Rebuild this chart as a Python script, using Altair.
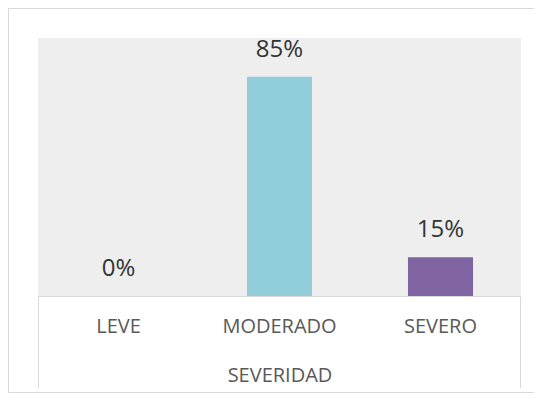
import altair as alt
import pandas as pd

categories = ["LEVE", "MODERADO", "SEVERO"]
values = [0.0, 0.85, 0.15]
bar_colors = ["#92CDDC", "#92CDDC", "#8064A2"]
axis_title = "SEVERIDAD"

df = pd.DataFrame({"cat": categories, "val": values})

W, H = 483, 258
PL, PT, PR, PB = 30, 30, 13, 97

font = "Open Sans"
band = alt.Scale(paddingInner=0.596, paddingOuter=0.298)

x_enc = alt.X("cat:N", sort=categories, scale=band,
              axis=alt.Axis(title=axis_title, labelAngle=0, ticks=False,
                            domainColor="#d9d9d9", domainWidth=1,
                            labelFont=font, labelFontSize=20, labelColor="#595959",
                            labelBaseline="middle", labelPadding=30,
                            titleFont=font, titleFontSize=20, titleColor="#595959",
                            titleFontWeight="normal", titleBaseline="middle",
                            titleY=79))
y_enc = alt.Y("val:Q", scale=alt.Scale(domain=[0, 1]), axis=None)

base = alt.Chart(df)

background = alt.Chart(pd.DataFrame({"b": [0]})).mark_rect(fill="#eeeeee", strokeWidth=0).encode(
    x=alt.value(0), x2=alt.value(W), y=alt.value(0), y2=alt.value(H),
)

bars = base.mark_bar().encode(
    x=x_enc, y=y_enc,
    color=alt.Color("cat:N", scale=alt.Scale(domain=categories, range=bar_colors),
                    legend=None),
)

labels = base.mark_text(baseline="alphabetic", dy=-20, font=font, fontSize=24,
                        color="#333333").encode(
    x=alt.X("cat:N", sort=categories, scale=band, axis=None), y=y_enc,
    text=alt.Text("val:Q", format=".0%"),
)

edges = alt.Chart(pd.DataFrame({"e": [0, 1]})).mark_rule(color="#d9d9d9", strokeWidth=1).encode(
    x=alt.X("e:Q", scale=alt.Scale(domain=[0, 1], range=[0.5, W - 0.5]), axis=None),
    y=alt.value(H), y2=alt.value(350),
)

frame = alt.Chart(pd.DataFrame({"f": [0]})).mark_rect(
    fillOpacity=0, stroke="#d9d9d9", strokeWidth=1).encode(
    x=alt.value(-PL + 0.5), x2=alt.value(W + PR + 40),
    y=alt.value(-PT + 0.5), y2=alt.value(H + PB - 0.5),
)

chart = alt.layer(frame, background, bars, labels, edges).resolve_scale(x="independent").properties(
    width=W, height=H,
    autosize=alt.AutoSizeParams(type="none"),
    padding={"left": PL, "top": PT, "right": PR, "bottom": PB},
    view=alt.ViewBackground(strokeWidth=0),
    background="white",
)

chart.save("out.html", embed_options={"renderer": "svg", "actions": False})
